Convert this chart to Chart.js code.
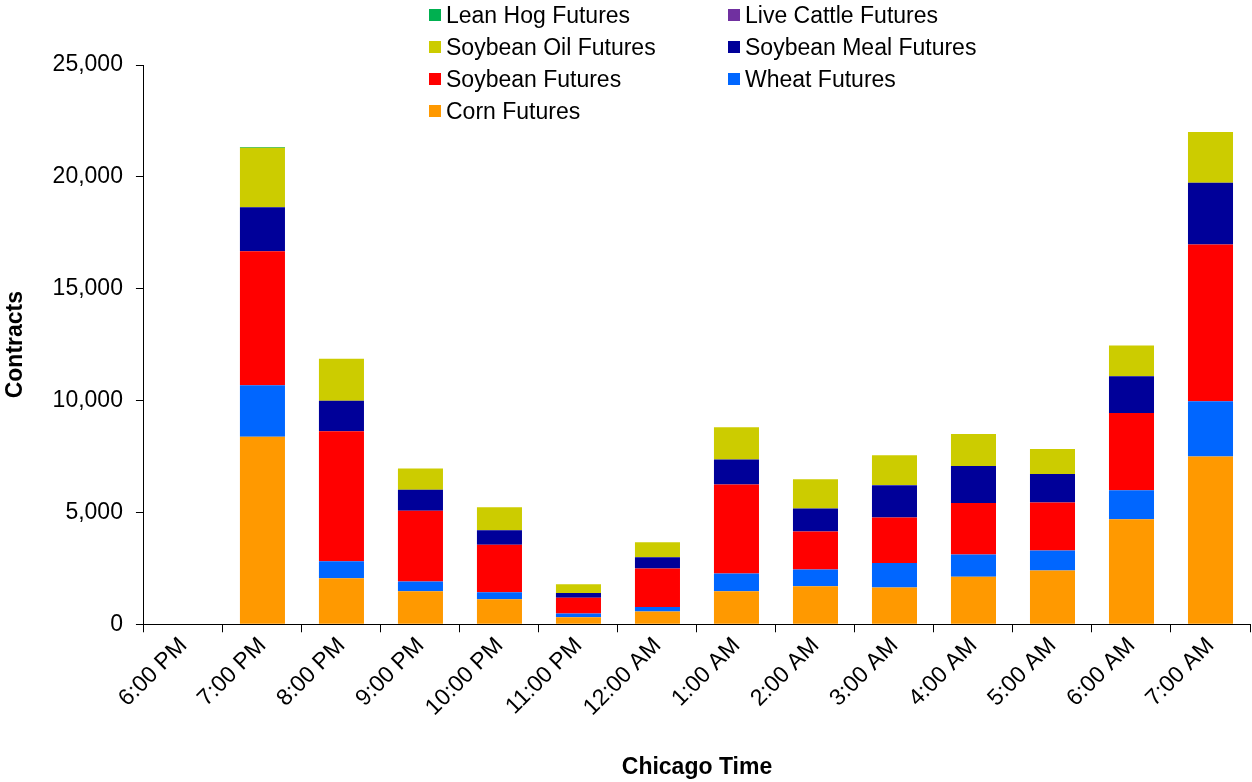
<!DOCTYPE html>
<html>
<head>
<meta charset="utf-8">
<script src="https://cdn.jsdelivr.net/npm/chart.js@4.4.1/dist/chart.umd.min.js"></script>
<style>
  body { margin: 0; background: #fff; }
  #wrap { position: relative; width: 1252px; height: 782px; }
  #legend { position: absolute; left: 429px; top: -1px; font-family: "Liberation Sans", Arial, sans-serif; font-size: 23px; color: #000;
            display: grid; grid-template-columns: 299px 300px; }
  #legend .item { height: 32px; display: flex; align-items: center; white-space: nowrap; }
  #legend .box { width: 12px; height: 12px; margin-right: 5px; flex: none; }
</style>
</head>
<body>
<div id="wrap">
  <canvas id="canvas" width="1252" height="782"></canvas>
  <div id="legend"></div>
</div>
<script>
// hours of the overnight session, Chicago time
var times = ['6:00 PM', '7:00 PM', '8:00 PM', '9:00 PM', '10:00 PM', '11:00 PM', '12:00 AM',
             '1:00 AM', '2:00 AM', '3:00 AM', '4:00 AM', '5:00 AM', '6:00 AM', '7:00 AM'];

// contracts per hour
var corn       = [0, 8380, 2060, 1480, 1120, 310,  570, 1480, 1700, 1640, 2120, 2400, 4700, 7500];
var wheat      = [0, 2310,  760,  430,  310, 170,  200,  790,  750, 1100, 1000,  900, 1290, 2470];
var soybean    = [0, 5990, 5810, 3160, 2120, 700, 1720, 3980, 1700, 2030, 2300, 2140, 3450, 7010];
var soyMeal    = [0, 1960, 1360,  940,  650, 220,  510, 1120, 1020, 1450, 1650, 1280, 1650, 2760];
var soyOil     = [0, 2660, 1880,  950, 1030, 390,  670, 1440, 1310, 1340, 1430, 1110, 1370, 2260];
var liveCattle = [0,    0,    0,    0,    0,   0,    0,    0,    0,    0,    0,    0,    0,    0];
var leanHog    = [0,   40,    0,    0,    0,   0,    0,    0,    0,    0,    0,    0,    0,    0];

var yTicks = [0, 5000, 10000, 15000, 20000, 25000];

// stacking order, bottom first
var series = [
    { label: 'Corn Futures',         data: corn,       color: '#FF9900' },
    { label: 'Wheat Futures',        data: wheat,      color: '#0066FF' },
    { label: 'Soybean Futures',      data: soybean,    color: '#FF0000' },
    { label: 'Soybean Meal Futures', data: soyMeal,    color: '#000099' },
    { label: 'Soybean Oil Futures',  data: soyOil,     color: '#CCCC00' },
    { label: 'Live Cattle Futures',  data: liveCattle, color: '#7030A0' },
    { label: 'Lean Hog Futures',     data: leanHog,    color: '#00B050' }
];

// legend order as in the original (two columns)
var legendOrder = ['Lean Hog Futures', 'Live Cattle Futures', 'Soybean Oil Futures', 'Soybean Meal Futures',
                   'Soybean Futures', 'Wheat Futures', 'Corn Futures'];

var legend = document.getElementById('legend');
legendOrder.forEach(function(name) {
    var s = series.filter(function(d) { return d.label == name; })[0];
    var div = document.createElement('div');
    div.className = 'item';
    div.innerHTML = '<span class="box" style="background:' + s.color + '"></span>' + name;
    legend.appendChild(div);
});

Chart.defaults.font.family = '"Liberation Sans", Arial, sans-serif';
Chart.defaults.font.size = 23;
Chart.defaults.color = '#000';

var ctx = document.getElementById('canvas').getContext('2d');
var myChart = new Chart(ctx, {
    type: 'bar',
    data: {
        labels: times,
        datasets: series.map(function(s) {
            return {
                label: s.label,
                data: s.data,
                backgroundColor: s.color,
                borderWidth: 0,
                categoryPercentage: 1.0,
                barPercentage: 0.57
            };
        })
    },
    options: {
        responsive: false,
        animation: false,
        layout: { padding: { top: 65, right: 2, left: 2, bottom: 1 } },
        plugins: {
            legend: { display: false },
            tooltip: { enabled: false }
        },
        scales: {
            x: {
                stacked: true,
                grid: { offset: true, drawOnChartArea: false, drawTicks: true, tickLength: 8, color: '#000' },
                border: { color: '#000', width: 1 },
                ticks: { minRotation: 45, maxRotation: 45, padding: 0 },
                title: { display: true, text: 'Chicago Time', font: { weight: 'bold' }, padding: { top: 32, bottom: 0 } }
            },
            y: {
                stacked: true,
                min: 0,
                max: 25000,
                afterBuildTicks: function(axis) {
                    axis.ticks = yTicks.map(function(v) { return { value: v }; });
                },
                grid: { drawOnChartArea: false, drawTicks: true, tickLength: 8, color: '#000' },
                border: { color: '#000', width: 1 },
                ticks: { padding: 13 },
                title: { display: true, text: 'Contracts', font: { weight: 'bold' }, padding: { top: 0, bottom: 10 } }
            }
        }
    }
});
</script>
</body>
</html>
